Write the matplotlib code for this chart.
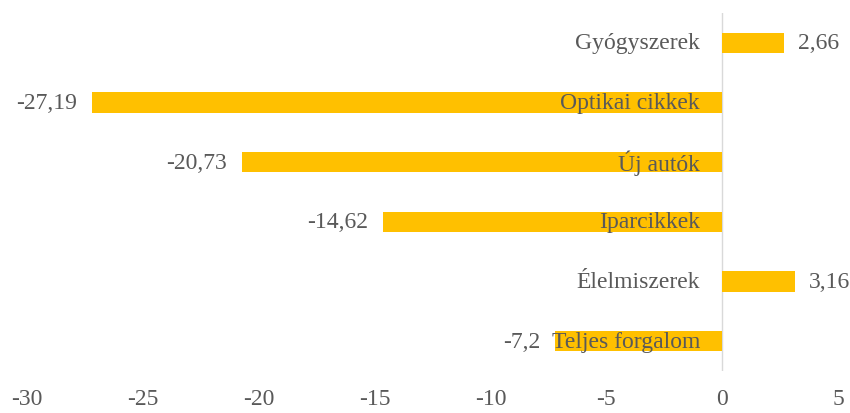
import matplotlib.pyplot as plt

categories = ['Gyógyszerek', 'Optikai cikkek', 'Új autók', 'Iparcikkek', 'Élelmiszerek', 'Teljes forgalom']
values = [2.66, -27.19, -20.73, -14.62, 3.16, -7.2]
labels = ['2,66', '-27,19', '-20,73', '-14,62', '3,16', '-7,2']

plt.rcParams['font.family'] = ['Liberation Serif', 'DejaVu Serif']
plt.rcParams['axes.unicode_minus'] = False
txt = '#595959'
fs = 17

fig = plt.figure(figsize=(8.5, 4.14), dpi=100)
ax = fig.add_axes([27/850, 1 - 372/414, 811/850, 358/414])

ypos = list(range(len(categories)))[::-1]
ax.barh(ypos, values, height=0.34, color='#FFC000', zorder=2)
ax.axvline(0, color='#d9d9d9', lw=1, zorder=1)

for y, v, lab, cat in zip(ypos, values, labels, categories):
    ax.annotate(cat, (0, y), xytext=(-16, 0), textcoords='offset points',
                ha='right', va='center', fontsize=fs, color=txt, zorder=3)
    if v >= 0:
        ax.annotate(lab, (v, y), xytext=(10, 0), textcoords='offset points',
                    ha='left', va='center', fontsize=fs, color=txt)
    else:
        ax.annotate(lab, (v, y), xytext=(-11, 0), textcoords='offset points',
                    ha='right', va='center', fontsize=fs, color=txt)

ax.set_xlim(-30, 5)
ax.set_ylim(-0.5, len(categories) - 0.5)
ax.set_xticks(range(-30, 6, 5))
ax.set_yticks([])
ax.tick_params(axis='x', length=0, labelsize=fs, labelcolor=txt, pad=12)
for s in ax.spines.values():
    s.set_visible(False)

fig.savefig('out.png', dpi=100)
